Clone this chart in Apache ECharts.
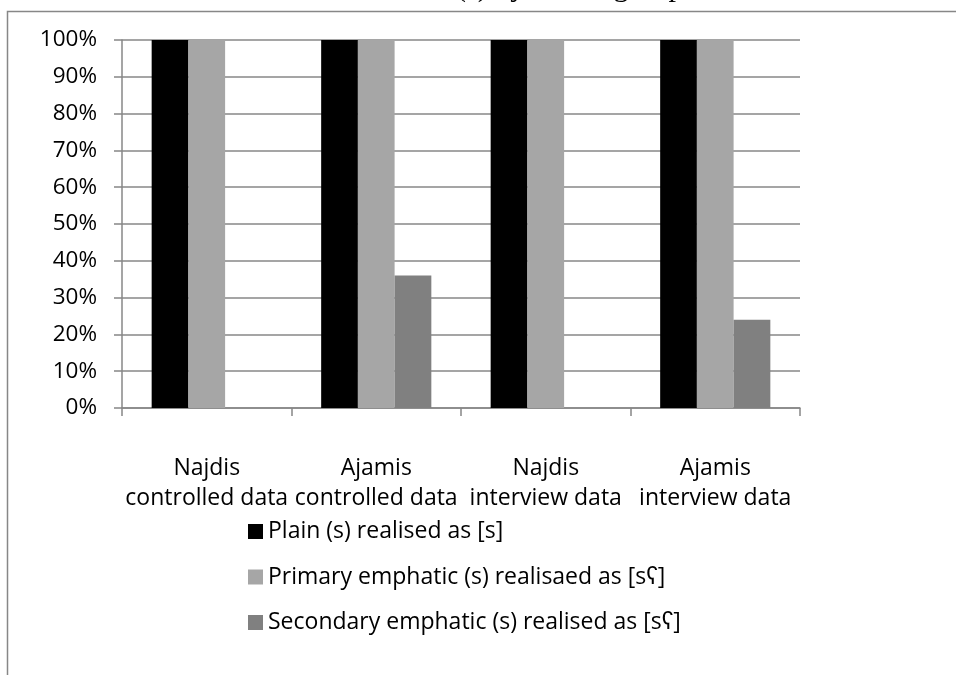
<!DOCTYPE html>
<html>
<head>
<meta charset="utf-8">
<script src="https://cdn.jsdelivr.net/npm/echarts@6/dist/echarts.min.js"></script>
<style>
  html, body { margin: 0; padding: 0; background: #ffffff; }
  #chart { width: 956px; height: 675px; }
</style>
</head>
<body>
<div id="chart"></div>
<script>
// Groups of speakers and data sources
const categories = [
  'Najdis\ncontrolled data',
  'Ajamis\ncontrolled data',
  'Najdis\ninterview data',
  'Ajamis\ninterview data'
];

// Share of tokens (%) in each realisation
const plainValues = [100, 100, 100, 100];
const primaryValues = [100, 100, 100, 100];
const secondaryValues = [0, 36, 0, 24];

const seriesNames = [
  'Plain (s) realised as [s]',
  'Primary emphatic (s) realisaed as [sʕ]',
  'Secondary emphatic (s) realised as [sʕ]'
];

const yTicks = { min: 0, max: 100, interval: 10 };

const font = '"Open Sans", "Liberation Sans", sans-serif';
const lineGray = '#878787';

const chart = echarts.init(document.getElementById('chart'), null, { renderer: 'canvas' });

chart.setOption({
  animation: false,
  backgroundColor: '#ffffff',
  graphic: [
    {
      type: 'rect',
      shape: { x: 7.5, y: 11.5, width: 1200, height: 1000 },
      style: { fill: 'none', stroke: lineGray, lineWidth: 1.5 },
      silent: true
    },
    {
      type: 'text',
      x: 456,
      y: -12,
      style: {
        text: '(s) by ethnic group',
        font: '30px "Liberation Serif", serif',
        fill: '#000000',
        verticalAlign: 'middle',
        align: 'left'
      },
      silent: true
    }
  ],
  grid: { left: 122, right: 156, top: 40, bottom: 267, containLabel: false },
  legend: {
    orient: 'vertical',
    left: 248,
    top: 520,
    padding: 0,
    itemWidth: 15,
    itemHeight: 15,
    itemGap: 22.5,
    icon: 'rect',
    textStyle: { fontFamily: font, fontSize: 23, color: '#000000' },
    data: seriesNames
  },
  xAxis: {
    type: 'category',
    data: categories,
    axisLine: { lineStyle: { color: lineGray, width: 1.5 } },
    axisTick: { show: true, length: 8, lineStyle: { color: lineGray, width: 1.5 } },
    axisLabel: {
      interval: 0,
      margin: 45,
      fontFamily: font,
      fontSize: 23,
      lineHeight: 30,
      color: '#000000'
    },
    splitLine: { show: false }
  },
  yAxis: {
    type: 'value',
    min: yTicks.min,
    max: yTicks.max,
    interval: yTicks.interval,
    axisLine: { show: true, lineStyle: { color: lineGray, width: 1.5 } },
    axisTick: { show: true, length: 8, lineStyle: { color: lineGray, width: 1.5 } },
    axisLabel: {
      margin: 25,
      formatter: '{value}%',
      fontFamily: font,
      fontSize: 22.5,
      color: '#000000'
    },
    splitLine: { show: true, lineStyle: { color: lineGray, width: 1.5 } }
  },
  series: [
    {
      name: seriesNames[0],
      type: 'bar',
      data: plainValues,
      itemStyle: { color: '#000000' },
      barGap: '0%',
      barCategoryGap: '35%'
    },
    {
      name: seriesNames[1],
      type: 'bar',
      data: primaryValues,
      itemStyle: { color: '#a6a6a6' },
      barGap: '0%',
      barCategoryGap: '35%'
    },
    {
      name: seriesNames[2],
      type: 'bar',
      data: secondaryValues,
      itemStyle: { color: '#808080' },
      barGap: '0%',
      barCategoryGap: '35%'
    }
  ]
});
</script>
</body>
</html>
